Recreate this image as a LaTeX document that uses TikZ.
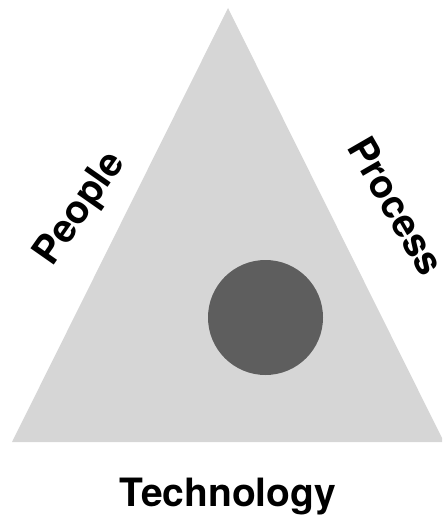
\documentclass[tikz,border=0pt]{standalone}
\usepackage{fontspec}
\setmainfont{TeX Gyre Heros}
\definecolor{trigray}{HTML}{D6D6D6}
\definecolor{dotgray}{HTML}{5E5E5E}
\begin{document}
\begin{tikzpicture}[x=1pt,y=-1pt,
  lbl/.style={font=\bfseries\fontsize{39}{39}\selectfont, inner sep=0pt, anchor=base},
  tri/.style={fill=trigray},
  dot/.style={circle, fill=dotgray, minimum size=115pt, inner sep=0pt}]
\useasboundingbox (0,0) rectangle (442,516);
\clip (0,0) rectangle (442,516);
\fill[tri] (228,8) -- (12,442) -- (444,442) -- cycle;
\node[dot] (core) at (265.5,317.5) {};
\node[lbl, rotate=55] (people) at (89,215) {People};
\node[lbl, rotate=-60] (process) at (384,213) {Process};
\node[lbl] (tech) at (228,506) {Technology};
\end{tikzpicture}
\end{document}
